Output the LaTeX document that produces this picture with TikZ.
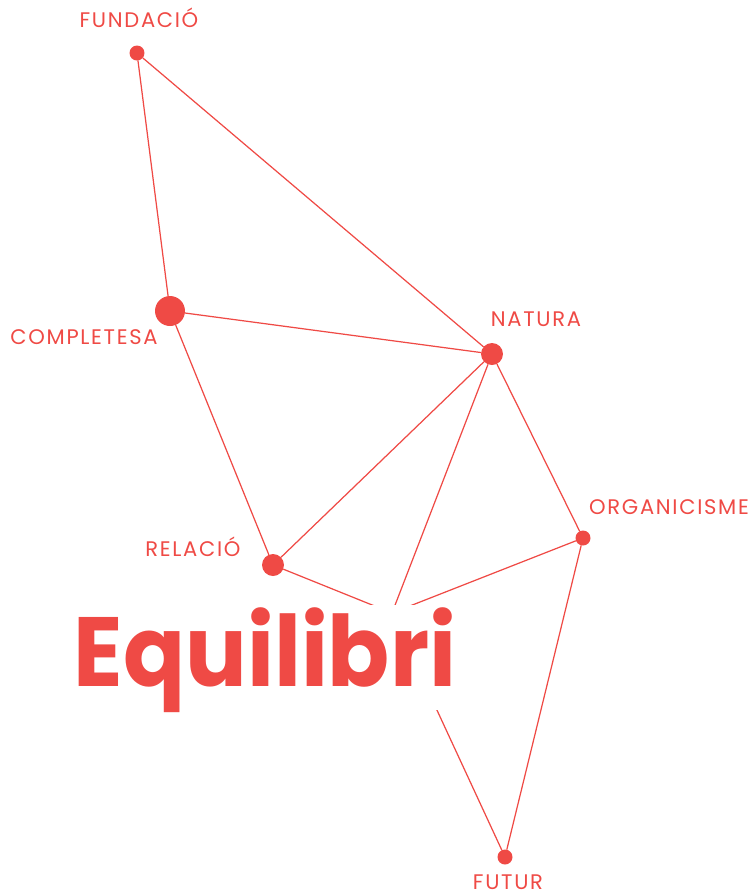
\documentclass[tikz,border=0pt]{standalone}
\usepackage{fontspec}
\setmainfont{Poppins}
\newfontfamily\lblfont[LetterSpace=8]{Poppins}
\newfontfamily\titlefont[FakeStretch=0.93]{Poppins}
\usetikzlibrary{calc}

\definecolor{eqred}{RGB}{239,74,69}

\begin{document}
\begin{tikzpicture}[
  x=0.02cm, y=-0.02cm,
  line cap=round,
  line join=round,
  link/.style={draw=eqred, line width=0.7pt},
  punt/.style={circle, fill=eqred, inner sep=0pt, minimum size=#1},
  lbl/.style={anchor=base, text=eqred, inner sep=0pt, font=\lblfont\fontsize{12}{13}\selectfont}
]
\useasboundingbox (0,0) rectangle (753,894);

% dots
\node [punt=0.3cm]  (fundacio)    at (137,53)  {};
\node [punt=0.6cm]  (completesa)  at (170,311) {};
\node [punt=0.44cm] (natura)      at (492,354) {};
\node [punt=0.44cm] (relacio)     at (273,565) {};
\node [punt=0.3cm]  (organicisme) at (583,538) {};
\node [punt=0.3cm]  (futur)       at (505,857) {};
\coordinate (centre) at (392,613);

% links
\draw [link] (fundacio) -- (completesa);
\draw [link] (fundacio) -- (natura);
\draw [link] (completesa) -- (natura);
\draw [link] (completesa) -- (relacio);
\draw [link] (natura) -- (relacio);
\draw [link] (natura) -- (organicisme);
\draw [link] (organicisme) -- (futur);
\draw [link] (natura) -- (centre);
\draw [link] (relacio) -- (centre);
\draw [link] (organicisme) -- (centre);
\draw [link] (futur) -- (centre);

% title: white box hides the links' ends
\node [anchor=base, fill=white, inner sep=0pt, text height=1.62cm, text depth=0.48cm,
       text=eqred, font=\titlefont\bfseries\fontsize{56}{60}\selectfont] (equilibri) at (265,686) {Equilibri};

% labels
\node [lbl] (tfundacio)    at (139,27)  {FUNDACIÓ};
\node [lbl] (tcompletesa)  at (84,344)  {COMPLETESA};
\node [lbl] (tnatura)      at (536,326) {NATURA};
\node [lbl] (trelacio)     at (193,556) {RELACIÓ};
\node [lbl] (torganicisme) at (669,514) {ORGANICISME};
\node [lbl] (tfutur)       at (508,889) {FUTUR};

\end{tikzpicture}
\end{document}
